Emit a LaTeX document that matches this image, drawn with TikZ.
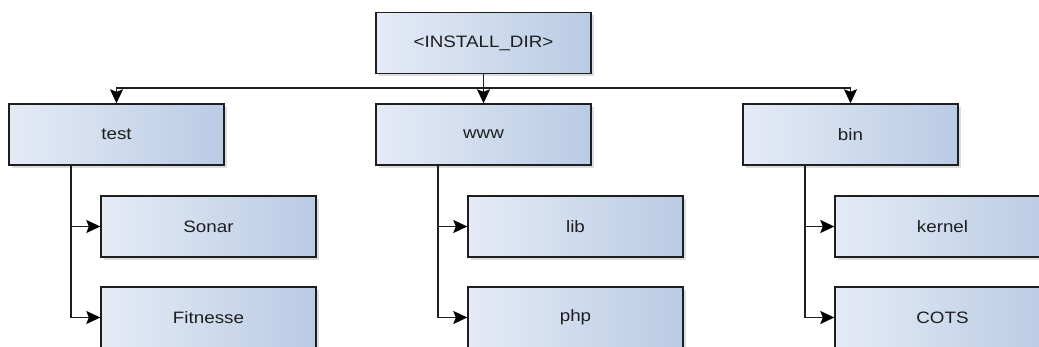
\documentclass[tikz,border=0pt]{standalone}
\usepackage{fontspec}
\setmainfont{Liberation Sans}[FakeStretch=1.14]
\usetikzlibrary{arrows.meta,shadows}
\definecolor{boxL}{RGB}{229,235,246}
\definecolor{boxR}{RGB}{185,203,228}
\definecolor{ink}{RGB}{30,30,30}
\tikzset{
  dirbox/.style={draw=ink, line width=1.4pt, left color=boxL, right color=boxR,
    minimum width=215pt, minimum height=61pt, inner sep=0pt, text=ink,
    font=\fontsize{16.5}{18}\selectfont,
    drop shadow={shadow xshift=2.5pt, shadow yshift=-3pt, opacity=0.22, fill=black!60}},
  link/.style={draw=ink, line width=1.4pt,
    -{Stealth[length=14pt,width=13pt,inset=2.5pt,black]}},
}
\begin{document}
\begin{tikzpicture}
\begin{scope}[x=1pt,y=-1pt]
\useasboundingbox (0,0) rectangle (1039,347);
\clip (0,0) rectangle (1039,347);
\fill[white] (0,0) rectangle (1039,347);

% root directory
\node[dirbox] (root) at (483.5,43) {<INSTALL\_DIR>};

% first-level directories
\node[dirbox] (test) at (116.5,134.5) {test};
\node[dirbox] (www)  at (483.5,134.5) {www};
\node[dirbox] (bin)  at (850.5,134.5) {bin};

% second-level directories
\node[dirbox] (sonar)    at (208.5,226.5) {Sonar};
\node[dirbox] (fitnesse) at (208.5,317.5) {Fitnesse};
\node[dirbox] (lib)      at (575.5,226.5) {lib};
\node[dirbox] (php)      at (575.5,317.5) {php};
\node[dirbox] (kernel)   at (942.5,226.5) {kernel};
\node[dirbox] (cots)     at (942.5,317.5) {COTS};

% bus line below the root
\coordinate (bus) at (483.5,88);
\end{scope}

\draw[link] (root.south) -- (root.south |- bus) -| (test.north);
\draw[link] (root.south) -- (www.north);
\draw[link] (root.south) -- (root.south |- bus) -| (bin.north);

% trunks to the sub-directories
\foreach \p/\a/\b in {test/sonar/fitnesse, www/lib/php, bin/kernel/cots}{
  \draw[link] ([xshift=-45.5pt]\p.south) |- (\a.west);
  \draw[link] ([xshift=-45.5pt]\p.south) |- (\b.west);
}
\end{tikzpicture}
\end{document}
